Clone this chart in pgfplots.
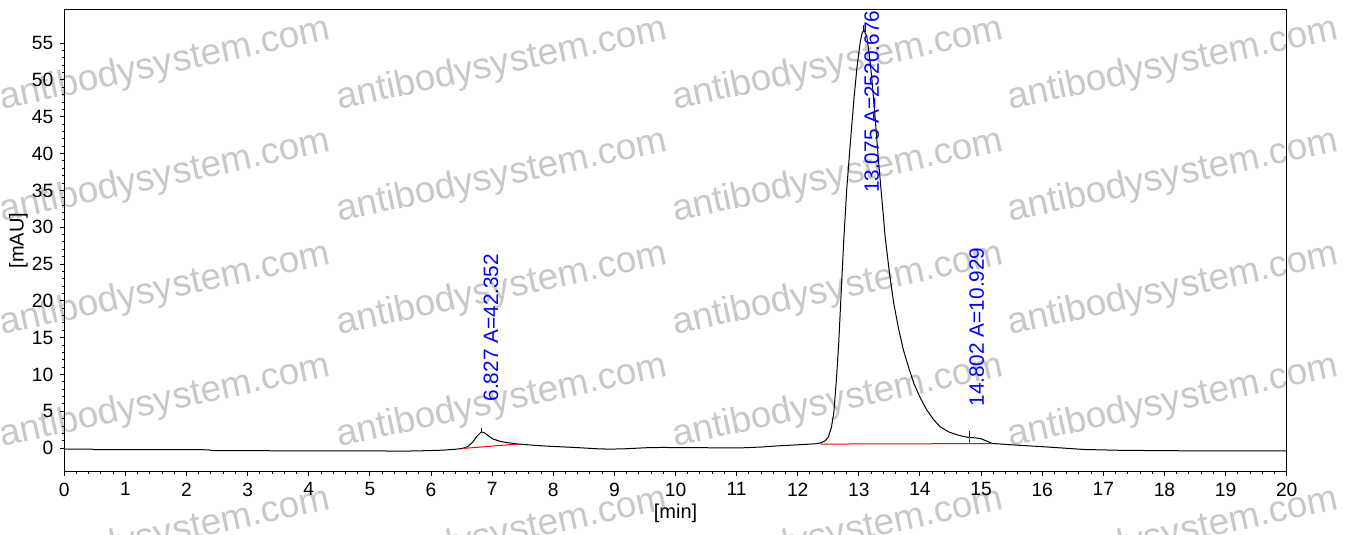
\documentclass[border=0pt]{standalone}
\usepackage{fontspec}
\setmainfont{Liberation Sans}
\usepackage{pgfplots}
\pgfplotsset{compat=1.18}
\definecolor{wm}{RGB}{200,200,200}
\definecolor{pkblue}{RGB}{0,0,255}
\begin{document}
\begin{tikzpicture}
\useasboundingbox (-32.15pt,-31.65pt) rectangle (647.35pt,235.85pt);
\begin{scope}
\clip (-32.15pt,-31.65pt) rectangle (647.35pt,235.85pt);
\foreach \cx in {165,502,838,1173}{
  \foreach \cy in {65,177,290,402,535}{
    \node[rotate=12, text=wm, inner sep=0pt, font=\fontsize{18.5}{20}\selectfont]
      at ({(\cx-64.3)*0.5pt},{(471.7-\cy)*0.5pt}) {antibodysystem.com};
  }
}
\end{scope}
\begin{axis}[
  at={(0,0)}, anchor=south west,
  scale only axis, width=611.2pt, height=231.2pt,
  xmin=0, xmax=20, ymin=-3.2, ymax=59.6,
  xtick={0,1,...,20}, ytick={0,5,...,55},
  minor x tick num=4, minor y tick num=4,
  tick align=outside, tick pos=left,
  major tick length=2pt, minor tick length=1pt,
  axis line style={line width=0.6pt},
  every tick/.style={black, line width=0.5pt},
  ticklabel style={font=\fontsize{9.6}{11}\selectfont},
  /pgf/number format/assume math mode=true,
  xlabel={[min]}, ylabel={[mAU]},
  label style={font=\fontsize{10}{12}\selectfont},
  every axis x label/.style={at={(axis description cs:0.5,0)}, anchor=center, yshift=-20.6pt},
  every axis y label/.style={at={(axis description cs:-0.0375,0.5)}, anchor=center, rotate=90},
  clip mode=individual,
]
\addplot[black, line width=0.5pt] coordinates {
(0,-0.14) (0.46,-0.14) (0.48,-0.2) (2.37,-0.22) (2.40,-0.32) (3.5,-0.36) (5.0,-0.38)
(5.6,-0.4) (5.9,-0.35) (6.2,-0.27) (6.4,-0.15) (6.51,-0.05) (6.6,0.2) (6.68,0.8)
(6.75,1.6) (6.81,2.1) (6.83,2.2) (6.88,2.05) (6.95,1.6) (7.02,1.22) (7.12,0.95)
(7.24,0.75) (7.43,0.56) (7.7,0.38) (7.90,0.27) (8.2,0.15) (8.44,0.05) (8.7,-0.08)
(8.93,-0.14) (9.2,-0.08) (9.5,0.05) (9.75,0.09) (10.1,0.08) (10.57,0.05) (11.11,0.05)
(11.4,0.15) (11.66,0.3) (12.0,0.45) (12.3,0.6) (12.37,0.7) (12.45,1.0) (12.5,1.5)
(12.55,2.8) (12.59,4.8) (12.63,9) (12.67,14.2) (12.71,21) (12.75,27.8) (12.8,35)
(12.86,41.4) (12.92,47.5) (12.97,51.8) (13.02,55) (13.05,56.3) (13.08,56.8) (13.13,55.9)
(13.17,53.5) (13.21,50.4) (13.27,44.5) (13.32,39.1) (13.38,33.5) (13.43,28.7) (13.5,23.8)
(13.57,19.7) (13.65,16.2) (13.73,13.3) (13.82,10.8) (13.90,8.8) (14.0,6.9) (14.11,5.2)
(14.22,3.9) (14.33,2.9) (14.47,2.2) (14.61,1.8) (14.70,1.6) (14.80,1.45) (14.9,1.4)
(14.99,1.3) (15.08,1.0) (15.18,0.64) (15.5,0.45) (16.0,0.2) (16.68,-0.18) (17.3,-0.3)
(18.31,-0.36) (20,-0.36)
};
% integration baselines
\addplot[red, line width=0.5pt] coordinates {(6.51,-0.05) (7.43,0.56)};
\addplot[red, line width=0.5pt] coordinates {(12.37,0.55) (15.18,0.62)};
% peak markers
\addplot[pkblue, line width=0.5pt] coordinates {(6.827,2.2) (6.827,2.8)};
\addplot[pkblue, line width=0.5pt] coordinates {(13.075,56.8) (13.075,57.4)};
\addplot[pkblue, line width=0.5pt] coordinates {(14.802,1.45) (14.802,2.3)};
\addplot[green!60!black, line width=0.5pt] coordinates {(14.802,0.6) (14.802,1.45)};
\node[rotate=90, anchor=west, inner sep=0pt, text=pkblue, font=\fontsize{10.4}{12}\selectfont]
  at (axis cs:6.98,6.3) {6.827 A=42.352};
\node[rotate=90, anchor=west, inner sep=0pt, text=pkblue, font=\fontsize{10.4}{12}\selectfont]
  at (axis cs:13.21,34.6) {13.075 A=2520.676};
\node[rotate=90, anchor=west, inner sep=0pt, text=pkblue, font=\fontsize{10.4}{12}\selectfont]
  at (axis cs:14.93,5.6) {14.802 A=10.929};
\end{axis}
\end{tikzpicture}
\end{document}
